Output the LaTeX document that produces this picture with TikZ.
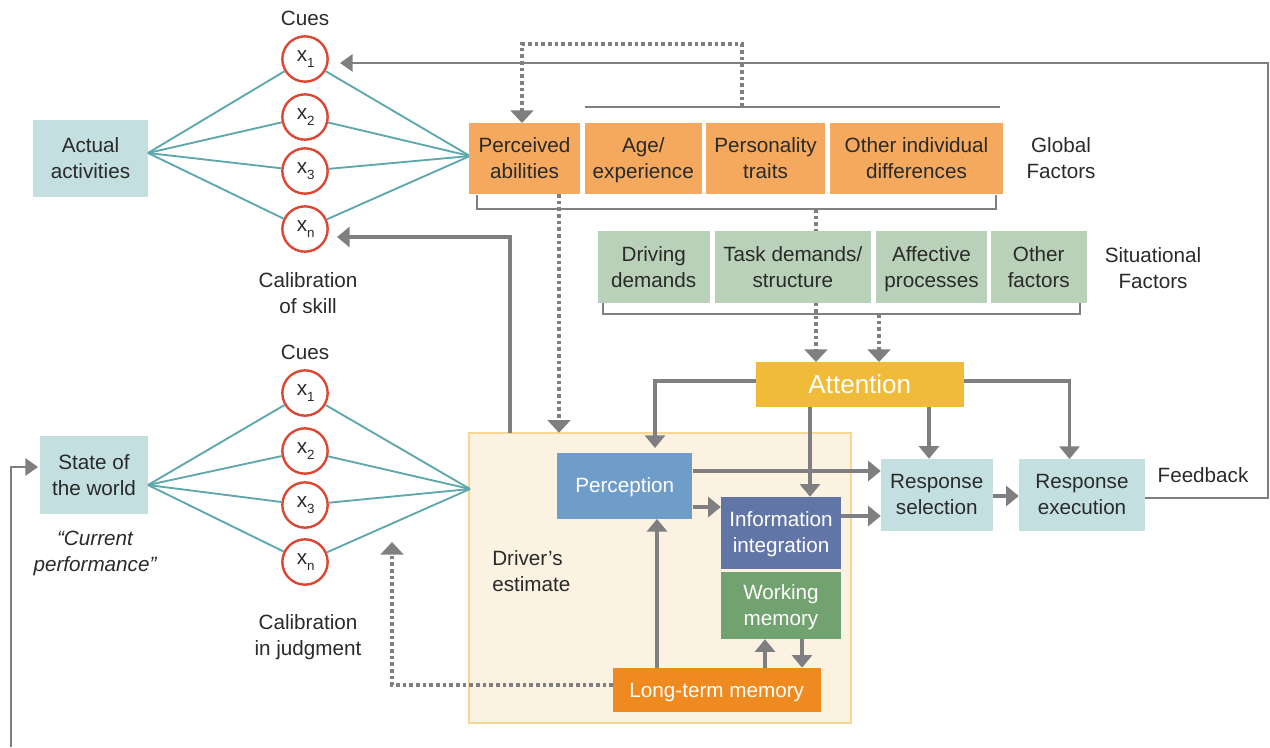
\documentclass[tikz,border=0pt]{standalone}
\usepackage{fontspec}
\setmainfont{Liberation Sans}
\usetikzlibrary{arrows.meta,calc}
\definecolor{gline}{HTML}{7F7F81}
\definecolor{teal}{HTML}{5EA7AA}
\definecolor{cuered}{HTML}{DC4733}
\definecolor{txt}{HTML}{2A2A2A}
\definecolor{lteal}{HTML}{C4DFE0}
\definecolor{gorange}{HTML}{F4A95F}
\definecolor{sgreen}{HTML}{B9D1B9}
\definecolor{attn}{HTML}{F1BB3A}
\definecolor{percb}{HTML}{6F9DCA}
\definecolor{infob}{HTML}{6275A7}
\definecolor{wmg}{HTML}{73A271}
\definecolor{ltmo}{HTML}{EE8A20}
\definecolor{cream}{HTML}{FBF2E1}
\definecolor{creamb}{HTML}{F8D794}
\newcommand\myfs{\fontsize{15.5}{19.5}\selectfont}
\newcommand\mybox[7]{\node[#6, minimum width={(#4-#2)*0.75pt}, minimum height={(#5-#3)*0.75pt}] (#1) at ({(#2+#4)/2},{(#3+#5)/2}) {#7};}
\newcommand\xs[1]{\hspace*{1pt}x\raisebox{-0.6ex}{\fontsize{10}{12}\selectfont#1}}
\newcommand\oneL[1]{\raisebox{0pt}[0.688em][0pt]{#1}}
\newcommand\twoL[2]{\raisebox{0pt}[\dimexpr 0.688em+19.5pt\relax][0pt]{\begin{tabular}[b]{@{}c@{}}#1\\#2\end{tabular}}}
\begin{document}
\begin{tikzpicture}[x=0.75pt,y=-0.75pt,
  box/.style={rectangle, inner sep=0pt, align=center, font=\myfs, text=txt},
  wbox/.style={box, text=white},
  lbl/.style={inner sep=0pt, align=center, font=\myfs, text=txt},
  cue/.style={circle, draw=cuered, line width=1.8pt, fill=white, minimum size=34pt, inner sep=0pt, font=\myfs, text=txt},
  fan/.style={draw=teal, line width=1.4pt},
  garrow/.style={draw=gline, line width=2.4pt, -{Triangle[length=9.5pt,width=15pt]}},
  tarrow/.style={draw=gline, line width=1.6pt, -{Triangle[length=9.5pt,width=13pt]}},
  thinline/.style={draw=gline, line width=1.6pt},
  dotline/.style={draw=gline, line width=2.5pt, dash pattern=on 2.8pt off 2.2pt},
  dotarrow/.style={dotline, -{Triangle[length=9.5pt,width=17pt]}},
]
\useasboundingbox (0,0) rectangle (1270,747);

% driver's estimate background
\mybox{de}{469}{432.7}{851}{723}{box, fill=cream, draw=creamb, line width=1.2pt}{}
\node[lbl, anchor=west, align=left] (detxt) at (492,571) {Driver’s\\estimate};

% coordinates
\coordinate (fL1) at (148,153);
\coordinate (fR1) at (470,156);
\coordinate (fL2) at (148,485);
\coordinate (fR2) at (470,489);
\coordinate (gtop) at (742,107);
\coordinate (gl1) at (584.5,107);
\coordinate (gl2) at (1000,107);
\coordinate (obr) at (816,209);
\coordinate (gbr) at (879,314);
\coordinate (pad) at (559,194);
\coordinate (pat) at (522,123);
\coordinate (cnt) at (337,237);
\coordinate (dest) at (510,432.7);
\coordinate (c1t) at (340,63);
\coordinate (fbs) at (1145,498);
\coordinate (fbc) at (1268,498);
\coordinate (lfb) at (11,747);
\coordinate (lfbt) at (38,467);
\coordinate (ltmd) at (613,685);
\coordinate (cjt) at (392,542);
\coordinate (pert) at (655,448);
\coordinate (ret) at (1069.5,459);
\coordinate (atop) at (0,362);
\coordinate (y381) at (0,381);
\coordinate (y471) at (0,471);
\coordinate (y507) at (0,507);
\coordinate (y516) at (0,516);
\coordinate (y496) at (0,496);
\coordinate (x929) at (929,0);
\coordinate (x810) at (810,0);
\coordinate (x657) at (657,0);
\coordinate (x765) at (765,0);
\coordinate (x802) at (802,0);

% dotted connectors drawn beneath boxes
\draw[dotarrow] (obr) -- (obr |- atop);
\draw[dotarrow] (gbr) -- (gbr |- atop);
\draw[dotarrow] (pad) -- (pad |- dest);
\draw[dotarrow] (gtop) -- ++(0,-63) -| (pat);
\draw[dotarrow] (ltmd) -| (cjt);

% global factor line & brackets
\draw[thinline] (gl1) -- (gl2);
\draw[thinline] (477,195) |- (996,209) -- (996,195);
\draw[thinline] (603,303) |- (1080,314) -- (1080,303);

% left boxes
\mybox{aa}{33}{120}{148}{197}{box, fill=lteal}{\twoL{Actual}{activities}}
\mybox{sw}{40}{436}{148}{514}{box, fill=lteal}{\twoL{State of}{the world}}
\node[lbl, font=\myfs\itshape] (cp) at (95,553) {“Current\\performance”};

% cues
\node[lbl] (cues1) at (305,18) {Cues};
\node[cue] (a1) at (305,59) {\xs{1}};
\node[cue] (a2) at (305,117) {\xs{2}};
\node[cue] (a3) at (305,171) {\xs{3}};
\node[cue] (an) at (305,229) {\xs{n}};
\node[lbl] (cal1) at (308,293) {Calibration\\of skill};

\node[lbl] (cues2) at (305,352) {Cues};
\node[cue] (b1) at (305,393) {\xs{1}};
\node[cue] (b2) at (305,451) {\xs{2}};
\node[cue] (b3) at (305,505) {\xs{3}};
\node[cue] (bn) at (305,562) {\xs{n}};
\node[lbl] (cal2) at (308,637) {Calibration\\in judgment};

\foreach \c in {a1,a2,a3,an}{\draw[fan] (fL1) -- (\c); \draw[fan] (\c) -- (fR1);}
\foreach \c in {b1,b2,b3,bn}{\draw[fan] (fL2) -- (\c); \draw[fan] (\c) -- (fR2);}

% global factors
\mybox{pa}{469}{123}{580}{194}{box, fill=gorange}{\twoL{Perceived}{abilities}}
\mybox{age}{584.5}{123}{702}{194}{box, fill=gorange}{\twoL{Age/}{experience}}
\mybox{pers}{706}{123}{825}{194}{box, fill=gorange}{\twoL{Personality}{traits}}
\mybox{oid}{830}{123}{1003}{194}{box, fill=gorange}{\twoL{Other individual}{differences}}
\node[lbl] (gf) at (1061,158) {Global\\Factors};

% situational factors
\mybox{dd}{598}{231}{709.5}{303}{box, fill=sgreen}{\twoL{Driving}{demands}}
\mybox{td}{715}{231}{870.6}{303}{box, fill=sgreen}{\twoL{Task demands/}{structure}}
\mybox{ap}{876}{231}{987}{303}{box, fill=sgreen}{\twoL{Affective}{processes}}
\mybox{of}{991}{231}{1086.5}{303}{box, fill=sgreen}{\twoL{Other}{factors}}
\node[lbl] (sf) at (1153,268) {Situational\\Factors};

% processing boxes
\mybox{att}{756}{362}{963.6}{406.7}{wbox, fill=attn, font=\fontsize{19.5}{22}\selectfont}{\oneL{Attention}}
\mybox{perc}{557}{453}{692.4}{518.7}{wbox, fill=percb}{\oneL{Perception}}
\mybox{ii}{721}{497}{841}{568.7}{wbox, fill=infob}{\twoL{Information}{integration}}
\mybox{wm}{721}{572}{841}{639}{wbox, fill=wmg}{\twoL{Working}{memory}}
\mybox{ltm}{613}{668}{820.5}{712}{wbox, fill=ltmo}{\oneL{Long-term memory}}
\mybox{rs}{881}{459}{992.5}{530.7}{box, fill=lteal}{\twoL{Response}{selection}}
\mybox{re}{1019}{459}{1145}{530.7}{box, fill=lteal}{\twoL{Response}{execution}}
\node[lbl] (fbl) at (1203,475) {Feedback};

% solid arrows
\draw[garrow] (dest) |- (cnt);
\draw[garrow] (att.west |- y381) -| (pert);
\draw[garrow] (att.east |- y381) -| (ret);
\draw[garrow] (x929 |- att.south) -- (x929 |- rs.north);
\draw[garrow] (x810 |- att.south) -- (x810 |- ii.north);
\draw[garrow] (perc.east |- y471) -- (rs.west |- y471);
\draw[garrow] (perc.east |- y507) -- (ii.west |- y507);
\draw[garrow] (ii.east |- y516) -- (rs.west |- y516);
\draw[garrow] (rs.east |- y496) -- (re.west |- y496);
\draw[garrow] (x657 |- ltm.north) -- (x657 |- perc.south);
\draw[garrow] (x765 |- ltm.north) -- (x765 |- wm.south);
\draw[garrow] (x802 |- wm.south) -- (x802 |- ltm.north);

% feedback loops
\draw[tarrow] (fbs) -- (fbc) |- (c1t);
\draw[tarrow] (lfb) |- (lfbt);
\end{tikzpicture}
\end{document}
